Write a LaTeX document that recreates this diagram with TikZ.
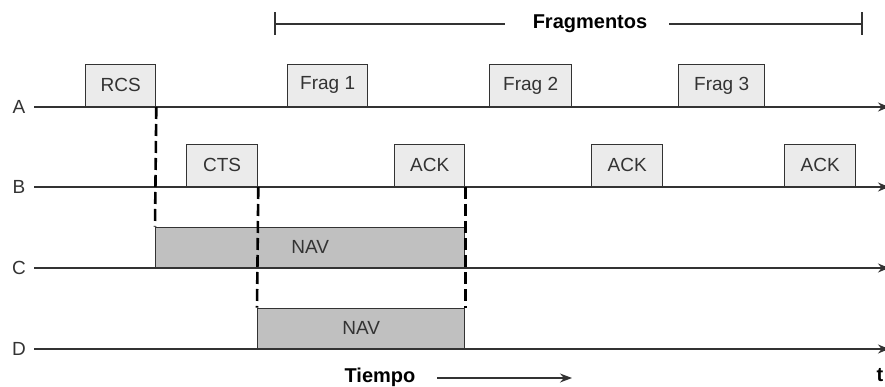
\documentclass[tikz,border=0pt]{standalone}
\usepackage{fontspec}
\setmainfont{Liberation Sans}
\usetikzlibrary{arrows.meta}
\definecolor{ink}{HTML}{333333}
\definecolor{pktfill}{HTML}{EBEBEB}
\definecolor{navfill}{HTML}{C0C0C0}
\begin{document}
\begin{tikzpicture}[x=1pt,y=-1pt,
  every node/.style={font=\fontsize{19}{22}\selectfont, inner sep=0pt, text=ink},
  pkt/.style={draw=ink, line width=1.3pt, fill=pktfill, minimum height=42pt, anchor=south west},
  nav/.style={draw=ink, line width=1.3pt, fill=navfill, minimum height=40pt, anchor=south west},
  axis/.style={line width=1.3pt, draw=ink, -{Stealth[length=11pt,width=9pt]}},
  vdash/.style={line width=2.6pt, draw=black, dash pattern=on 12pt off 5pt},
  lbl/.style={font=\fontsize{20}{24}\selectfont\bfseries, text=black},
  plain line/.style={line width=1.3pt, draw=ink}]
\useasboundingbox (0,0) rectangle (885,387);

% time lines
\foreach \n/\y in {A/107,B/187,C/268,D/349}{
  \node[anchor=center] (l\n) at (19,\y) {\n};
  \coordinate (s\n) at (34,\y);
  \coordinate (e\n) at (889,\y);
  \draw[axis] (s\n) -- (e\n);
}

% packets
\node[pkt, minimum width=70pt] (rcs) at (85,107) {RCS};
\node[pkt, minimum width=80pt] (f1) at (287,107) {Frag 1};
\node[pkt, minimum width=82pt] (f2) at (489,107) {Frag 2};
\node[pkt, minimum width=86pt] (f3) at (678,107) {Frag 3};
\node[pkt, minimum width=71pt] (cts) at (186,187) {CTS};
\node[pkt, minimum width=70pt] (ack1) at (394,187) {ACK};
\node[pkt, minimum width=71pt] (ack2) at (591,187) {ACK};
\node[pkt, minimum width=71pt] (ack3) at (784,187) {ACK};

% NAV
\node[nav, minimum width=309pt] (navc) at (155,268) {NAV};
\node[nav, minimum width=207pt] (navd) at (257,349) {NAV};

% dashed guides
\draw[vdash] (rcs.south east) -- (navc.north west);
\draw[vdash] (cts.south east) -- (navd.north west);
\draw[vdash] (ack1.south east) -- (navd.north east);

% Fragmentos bracket
\node[lbl] (frag) at (590,24) {Fragmentos};
\coordinate (bl) at (275,24);
\coordinate (br) at (862,24);
\draw[plain line] (bl) -- ([xshift=-28pt]frag.west);
\draw[plain line] ([xshift=22pt]frag.east) -- (br);
\draw[plain line] ([yshift=-11pt]bl) -- ([yshift=12pt]bl);
\draw[plain line] ([yshift=-11pt]br) -- ([yshift=12pt]br);

% Tiempo
\node[lbl, anchor=base] (tiempo) at (380,382) {Tiempo};
\coordinate (ts) at (437,378);
\coordinate (te) at (572,378);
\draw[plain line, -{Stealth[length=12pt,width=9pt]}] (ts) -- (te);
\node[lbl, anchor=base] (t) at (880,381) {t};
\end{tikzpicture}
\end{document}
